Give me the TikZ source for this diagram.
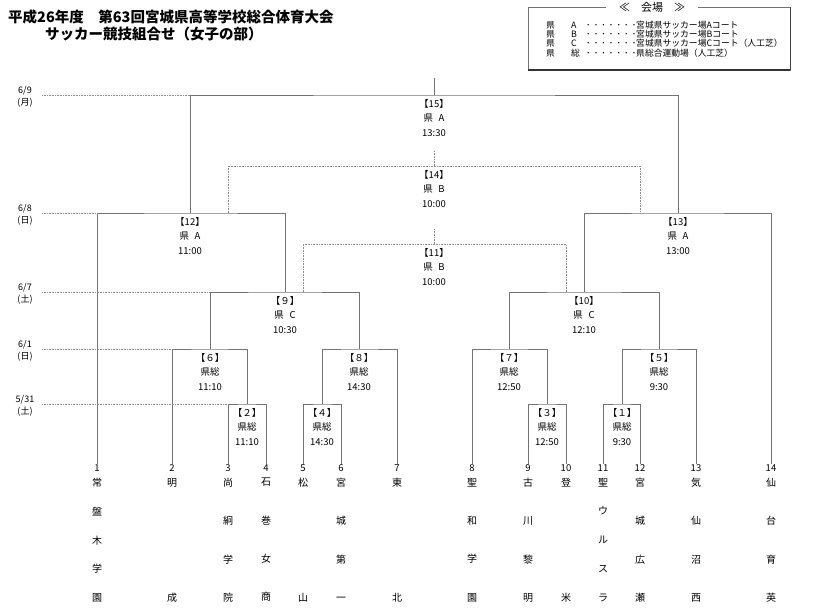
\documentclass[tikz,border=0pt]{standalone}
\usepackage{fontspec}
\setmainfont{Noto Sans CJK JP}
\usetikzlibrary{positioning}
\tikzset{
  bracket/.style={draw=black!55,line width=0.9pt},
  loser/.style={draw=black!45,line width=0.6pt,densely dotted},
  dateline/.style={draw=black!45,line width=0.6pt,densely dotted},
  matchlbl/.style={align=center,inner sep=0pt,font=\fontsize{9.5}{14.5}\selectfont},
  teamno/.style={inner sep=0pt,font=\fontsize{9.5}{10}\selectfont},
  teamname/.style={anchor=north,align=center,inner sep=0pt},
  pitch2/.style={font=\fontsize{10}{115}\selectfont},
  pitch4/.style={font=\fontsize{10}{38.33}\selectfont},
  pitch5/.style={font=\fontsize{10}{28.75}\selectfont},
  datelbl/.style={align=center,inner sep=0pt,minimum width=34pt,yshift=-2pt,font=\fontsize{9}{12}\selectfont}
}
\newcommand{\venuerow}[3]{\makebox[40pt][l]{県\hspace{16pt}#1}\makebox[50pt][s]{･\hfill･\hfill･\hfill･\hfill･\hfill･\hfill･}#2#3}
\newcommand{\ken}[1]{県\hspace{0.6em}#1}

\begin{document}
\begin{tikzpicture}[x=1pt,y=-1pt]
\useasboundingbox (0,0) rectangle (823,611);

\node[anchor=west,inner sep=0pt,font=\fontsize{14.5}{14.5}\selectfont\bfseries] (title) at (8,17) {平成26年度　第63回宮城県高等学校総合体育大会};
\node[anchor=west,inner sep=0pt,font=\fontsize{14.5}{14.5}\selectfont\bfseries] (subtitle) at (45,34) {サッカー競技組合せ（女子の部）};

\coordinate (lbNW) at (528,6.5);
\coordinate (lbSE) at (790,70);
\node[inner sep=0pt,minimum width=91pt,font=\fontsize{11}{11}\selectfont] (venuetitle) at (652,7) {≪　会場　≫};
\draw[bracket] (venuetitle.west) -| (lbNW |- lbSE) -- (lbSE) |- (venuetitle.east);
\draw[black!80,line width=1.8pt] (lbNW |- lbSE) -- (lbSE);
\draw[black!75,line width=1pt] (lbSE) -- (lbSE |- lbNW);
\node[anchor=north west,align=left,inner sep=0pt,font=\fontsize{8.8}{9.4}\selectfont] (venues) at (546,20.5) {\venuerow{A}{宮城県サッカー場Aコート}{}\\\venuerow{B}{宮城県サッカー場Bコート}{}\\\venuerow{C}{宮城県サッカー場Cコート}{（人工芝）}\\\venuerow{総}{県総合運動場}{（人工芝）}};

\coordinate (m1) at (622,404);
\coordinate (m2) at (247,404);
\coordinate (m3) at (547,404);
\coordinate (m4) at (322,404);
\coordinate (m5) at (659,349);
\coordinate (m6) at (210,349);
\coordinate (m7) at (509,349);
\coordinate (m8) at (359,349);
\coordinate (m9) at (285,292);
\coordinate (m10) at (584,292);
\coordinate (m11) at (434,244);
\coordinate (m12) at (190,213);
\coordinate (m13) at (678,213);
\coordinate (m14) at (434,166);
\coordinate (m15) at (434,95);
\coordinate (m9r) at ([xshift=18pt]m9);
\coordinate (m10l) at ([xshift=-18pt]m10);
\coordinate (m12r) at ([xshift=38pt]m12);
\coordinate (m13l) at ([xshift=-38pt]m13);
\coordinate (top11) at (434,229);
\coordinate (top14) at (434,150);
\coordinate (top15) at (434,78);

\foreach \n/\x in {1/97,2/172,3/228,4/266,5/303,6/341,7/397,8/472,9/528,10/566,11/603,12/640,13/696,14/771}
  \node[teamno] (t\n) at (\x,468) {\n};

\coordinate (namerow) at (0,478);
\node[teamname,pitch5] (n1) at (t1 |- namerow) {常\\盤\\木\\学\\園};
\node[teamname,pitch2] (n2) at (t2 |- namerow) {明\\成};
\node[teamname,pitch4] (n3) at (t3 |- namerow) {尚\\絅\\学\\院};
\node[teamname,pitch4] (n4) at (t4 |- namerow) {石\\巻\\女\\商};
\node[teamname,pitch2] (n5) at (t5 |- namerow) {松\\山};
\node[teamname,pitch4] (n6) at (t6 |- namerow) {宮\\城\\第\\一};
\node[teamname,pitch2] (n7) at (t7 |- namerow) {東\\北};
\node[teamname,pitch4] (n8) at (t8 |- namerow) {聖\\和\\学\\園};
\node[teamname,pitch4] (n9) at (t9 |- namerow) {古\\川\\黎\\明};
\node[teamname,pitch2] (n10) at (t10 |- namerow) {登\\米};
\node[teamname,pitch5] (n11) at (t11 |- namerow) {聖\\ウ\\ル\\ス\\ラ};
\node[teamname,pitch4] (n12) at (t12 |- namerow) {宮\\城\\広\\瀬};
\node[teamname,pitch4] (n13) at (t13 |- namerow) {気\\仙\\沼\\西};
\node[teamname,pitch4] (n14) at (t14 |- namerow) {仙\\台\\育\\英};

\draw[bracket] (t11.north) |- (m1) -| (t12.north);
\draw[bracket] (t3.north) |- (m2) -| (t4.north);
\draw[bracket] (t9.north) |- (m3) -| (t10.north);
\draw[bracket] (t5.north) |- (m4) -| (t6.north);
\draw[bracket] (m1) |- (m5) -| (t13.north);
\draw[bracket] (t2.north) |- (m6) -| (m2);
\draw[bracket] (t8.north) |- (m7) -| (m3);
\draw[bracket] (m4) |- (m8) -| (t7.north);
\draw[bracket] (m6) |- (m9) -| (m8);
\draw[bracket] (m7) |- (m10) -| (m5);
\draw[bracket] (t1.north) |- (m12) -| (m9);
\draw[bracket] (m10) |- (m13) -| (t14.north);
\draw[bracket] (m12) |- (m15) -| (m13);
\draw[bracket] (m15) -- (top15);
\draw[loser] (m9r) |- (m11) -| (m10l);
\draw[loser] (m11) -- (top11);
\draw[loser] (m12r) |- (m14) -| (m13l);
\draw[loser] (m14) -- (top14);

\node[datelbl] (d69) at (25,95) {6/9\\(月)};
\node[datelbl] (d68) at (25,213) {6/8\\(日)};
\node[datelbl] (d67) at (25,292) {6/7\\(土)};
\node[datelbl] (d61) at (25,349) {6/1\\(日)};
\node[datelbl] (d531) at (25,404) {5/31\\(土)};
\draw[dateline] (d69.east |- m15) -- (m12 |- m15);
\draw[dateline] (d68.east |- m12) -- (t1 |- m12);
\draw[dateline] (d67.east |- m9) -- (m6 |- m9);
\draw[dateline] (d61.east |- m6) -- (t2 |- m6);
\draw[dateline] (d531.east |- m2) -- (t3 |- m2);

\node[matchlbl,below=4pt of m15] (l15) {【15】\\\ken{A}\\13:30};
\node[matchlbl,below=4pt of m14] (l14) {【14】\\\ken{B}\\10:00};
\node[matchlbl,below=4pt of m13] (l13) {【13】\\\ken{A}\\13:00};
\node[matchlbl,below=4pt of m12] (l12) {【12】\\\ken{A}\\11:00};
\node[matchlbl,below=4pt of m11] (l11) {【11】\\\ken{B}\\10:00};
\node[matchlbl,below=4pt of m10] (l10) {【10】\\\ken{C}\\12:10};
\node[matchlbl,below=4pt of m9] (l9) {【９】\\\ken{C}\\10:30};
\node[matchlbl,below=4pt of m8] (l8) {【８】\\県総\\14:30};
\node[matchlbl,below=4pt of m7] (l7) {【７】\\県総\\12:50};
\node[matchlbl,below=4pt of m6] (l6) {【６】\\県総\\11:10};
\node[matchlbl,below=4pt of m5] (l5) {【５】\\県総\\9:30};
\node[matchlbl,below=4pt of m4] (l4) {【４】\\県総\\14:30};
\node[matchlbl,below=4pt of m3] (l3) {【３】\\県総\\12:50};
\node[matchlbl,below=4pt of m2] (l2) {【２】\\県総\\11:10};
\node[matchlbl,below=4pt of m1] (l1) {【１】\\県総\\9:30};
\end{tikzpicture}
\end{document}
